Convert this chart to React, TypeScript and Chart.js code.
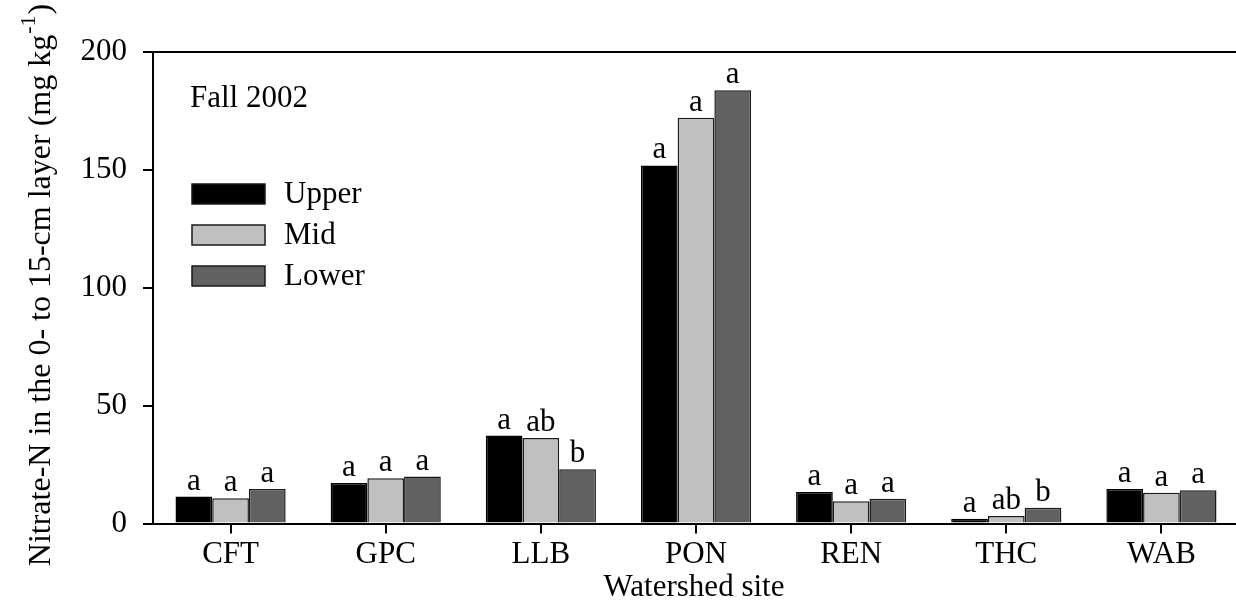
import React, { useEffect, useRef } from "react";
import { Chart, registerables } from "chart.js";

Chart.register(...registerables);

const categories = ["CFT", "GPC", "LLB", "PON", "REN", "THC", "WAB"];
const seriesNames = ["Upper", "Mid", "Lower"];
const upperValues = [11.4, 17.2, 37.3, 151.9, 13.4, 2.0, 14.6];
const midValues = [10.7, 19.2, 36.3, 172.1, 9.4, 3.2, 13.0];
const lowerValues = [14.6, 19.9, 23.0, 183.8, 10.5, 6.7, 14.1];
const upperLetters = ["a", "a", "a", "a", "a", "a", "a"];
const midLetters = ["a", "a", "ab", "a", "a", "ab", "a"];
const lowerLetters = ["a", "a", "b", "a", "a", "b", "a"];
const seriesColors = ["#000000", "#c0c0c0", "#616161"];
const yMin = 0;
const yMax = 200;
const yStep = 50;
const panelLabel = "Fall 2002";
const xTitle = "Watershed site";
const yTitleMain = "Nitrate-N in the 0- to 15-cm layer (mg kg";
const yTitleSup = "-1";
const yTitleEnd = ")";

const FONT = "'Liberation Serif', 'Times New Roman', Times, serif";

export default function App() {
  const ref = useRef<HTMLCanvasElement | null>(null);

  useEffect(() => {
    if (!ref.current) return;
    const lettersAll = [upperLetters, midLetters, lowerLetters];

    const decor = {
      id: "decor",
      afterDatasetsDraw(chart: any) {
        const ctx = chart.ctx;
        const area = chart.chartArea;
        ctx.save();
        // significance letters
        ctx.fillStyle = "#000";
        ctx.font = `31px ${FONT}`;
        ctx.textAlign = "center";
        ctx.textBaseline = "alphabetic";
        chart.data.datasets.forEach((_: any, di: number) => {
          const meta = chart.getDatasetMeta(di);
          meta.data.forEach((el: any, i: number) => {
            ctx.fillText(lettersAll[di][i], el.x, el.y - 7);
          });
        });
        // top frame line
        ctx.strokeStyle = "#000";
        ctx.lineWidth = 2;
        ctx.beginPath();
        ctx.moveTo(area.left, area.top);
        ctx.lineTo(area.right + 2, area.top);
        ctx.stroke();
        // panel label
        ctx.textAlign = "left";
        ctx.fillText(panelLabel, 190, 107);
        // legend
        const boxX = 192;
        const boxW = 73;
        const boxH = 20;
        const rowY = [194, 235, 276];
        chart.data.datasets.forEach((ds: any, di: number) => {
          ctx.fillStyle = ds.backgroundColor;
          ctx.fillRect(boxX, rowY[di] - boxH / 2, boxW, boxH);
          ctx.strokeStyle = "#1a1a1a";
          ctx.lineWidth = 1.5;
          ctx.strokeRect(boxX, rowY[di] - boxH / 2, boxW, boxH);
          ctx.fillStyle = "#000";
          ctx.textBaseline = "middle";
          ctx.fillText(ds.label, 284, rowY[di] + 1);
        });
        // x title
        ctx.textAlign = "center";
        ctx.textBaseline = "alphabetic";
        ctx.fillText(xTitle, (area.left + area.right) / 2 - 2, 596);
        // y title (rotated, with superscript)
        ctx.font = `32px ${FONT}`;
        const w1 = ctx.measureText(yTitleMain).width;
        const w3 = ctx.measureText(yTitleEnd).width;
        ctx.font = `22px ${FONT}`;
        const w2 = ctx.measureText(yTitleSup).width;
        const total = w1 + w2 + w3 + 2;
        ctx.translate(50, 285);
        ctx.rotate(-Math.PI / 2);
        ctx.textAlign = "left";
        let x0 = -total / 2;
        ctx.font = `32px ${FONT}`;
        ctx.fillText(yTitleMain, x0, 0);
        x0 += w1 + 1;
        ctx.font = `22px ${FONT}`;
        ctx.fillText(yTitleSup, x0, -15);
        x0 += w2 + 1;
        ctx.font = `32px ${FONT}`;
        ctx.fillText(yTitleEnd, x0, 0);
        ctx.restore();
      },
    };

    const chart = new Chart(ref.current, {
      type: "bar",
      data: {
        labels: categories,
        datasets: [upperValues, midValues, lowerValues].map((vals, i) => ({
          label: seriesNames[i],
          data: vals,
          backgroundColor: seriesColors[i],
          borderColor: i === 0 ? "#000000" : "#1a1a1a",
          borderWidth: 1.5,
          categoryPercentage: 0.71,
          barPercentage: 1,
        })),
      },
      options: {
        responsive: false,
        animation: false,
        events: [],
        layout: { padding: { top: 52, right: 1, left: 0, bottom: 0 } },
        plugins: {
          legend: { display: false },
          tooltip: { enabled: false },
          title: { display: false },
        },
        scales: {
          x: {
            offset: true,
            grid: {
              display: true,
              drawOnChartArea: false,
              offset: false,
              tickLength: 10,
              color: "#000",
              lineWidth: 2,
            },
            border: { display: true, color: "#000", width: 2 },
            ticks: {
              color: "#000",
              font: { family: FONT, size: 31 },
              padding: 3,
              maxRotation: 0,
              autoSkip: false,
            },
            afterFit(scale: any) {
              scale.height = 82.5;
            },
          },
          y: {
            min: yMin,
            max: yMax,
            grid: {
              display: true,
              drawOnChartArea: false,
              tickLength: 10,
              color: "#000",
              lineWidth: 2,
            },
            border: { display: true, color: "#000", width: 2 },
            ticks: {
              stepSize: yStep,
              color: "#000",
              font: { family: FONT, size: 31 },
              padding: 16,
            },
            afterFit(scale: any) {
              scale.width = 153;
            },
          },
        },
      },
      plugins: [decor],
    });
    return () => chart.destroy();
  }, []);

  return (
    <div
      style={{
        position: "fixed",
        left: 0,
        top: 0,
        width: 1236,
        height: 606,
        overflow: "hidden",
        background: "#fff",
      }}
    >
      <canvas ref={ref} width={1240} height={606} style={{ display: "block" }} />
    </div>
  );
}
